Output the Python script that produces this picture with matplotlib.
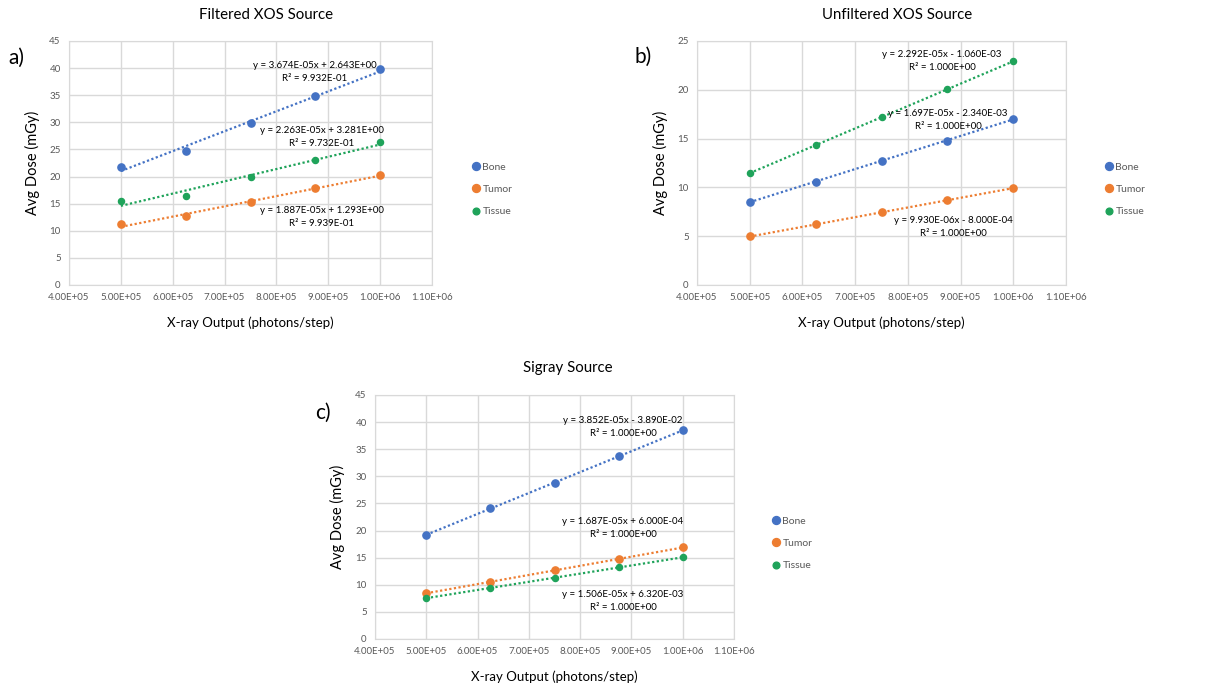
import matplotlib.pyplot as plt
from matplotlib.ticker import FuncFormatter, MultipleLocator

plt.rcParams['font.family'] = ['Lato', 'DejaVu Sans']

x_vals = [5.0e5, 6.25e5, 7.5e5, 8.75e5, 1.0e6]
series = ["Bone", "Tumor", "Tissue"]
colors = {"Bone": "#4472C4", "Tumor": "#ED7D31", "Tissue": "#1FA35A"}
msizes = {"Bone": 5.2, "Tumor": 5.2, "Tissue": 4.4}

# panel a: Filtered XOS
a_bone = [21.8, 24.8, 29.8, 34.8, 39.8]
a_tumor = [11.2, 12.8, 15.3, 17.8, 20.3]
a_tissue = [15.5, 16.5, 19.9, 23.1, 26.3]
a_fit = {"Bone": (3.674e-05, 2.643), "Tumor": (1.887e-05, 1.293), "Tissue": (2.263e-05, 3.281)}
a_eq = {"Bone": ("y = 3.674E-05x + 2.643E+00", "R² = 9.932E-01"),
        "Tumor": ("y = 1.887E-05x + 1.293E+00", "R² = 9.939E-01"),
        "Tissue": ("y = 2.263E-05x + 3.281E+00", "R² = 9.732E-01")}

# panel b: Unfiltered XOS
b_bone = [8.5, 10.6, 12.7, 14.8, 17.0]
b_tumor = [4.97, 6.2, 7.45, 8.69, 9.93]
b_tissue = [11.46, 14.3, 17.19, 20.05, 22.92]
b_fit = {"Bone": (1.697e-05, -2.340e-03), "Tumor": (9.930e-06, -8.000e-04), "Tissue": (2.292e-05, -1.060e-03)}
b_eq = {"Bone": ("y = 1.697E-05x - 2.340E-03", "R² = 1.000E+00"),
        "Tumor": ("y = 9.930E-06x - 8.000E-04", "R² = 1.000E+00"),
        "Tissue": ("y = 2.292E-05x - 1.060E-03", "R² = 1.000E+00")}

# panel c: Sigray
c_bone = [19.2, 24.1, 28.8, 33.7, 38.5]
c_tumor = [8.4, 10.5, 12.7, 14.8, 16.9]
c_tissue = [7.6, 9.4, 11.3, 13.2, 15.1]
c_fit = {"Bone": (3.852e-05, -3.890e-02), "Tumor": (1.687e-05, 6.000e-04), "Tissue": (1.506e-05, 6.320e-03)}
c_eq = {"Bone": ("y = 3.852E-05x - 3.890E-02", "R² = 1.000E+00"),
        "Tumor": ("y = 1.687E-05x + 6.000E-04", "R² = 1.000E+00"),
        "Tissue": ("y = 1.506E-05x + 6.320E-03", "R² = 1.000E+00")}

W, H = 1232, 687
fig = plt.figure(figsize=(W / 100, H / 100), dpi=100)
fig.patch.set_facecolor("white")


def px_axes(left, top, right, bottom):
    return fig.add_axes([left / W, 1 - bottom / H, (right - left) / W, (bottom - top) / H])


def panel(box, data, fits, eqs, ymax, title, title_xy, letter, letter_xy,
          eq_pos, leg_xy, ylab_x):
    ax = px_axes(*box)
    for name in series:
        ax.plot(x_vals, data[name], "o", color=colors[name], ms=msizes[name], zorder=3, label=name)
        m, b = fits[name]
        xs = [x_vals[0], x_vals[-1]]
        ax.plot(xs, [m * xs[0] + b, m * xs[1] + b], ls=(0, (1, 1.1)), lw=1.6,
                color=colors[name], zorder=2)
        ex, ey = eq_pos[name]
        ax.annotate(eqs[name][0] + "\n" + eqs[name][1],
                    xy=(ex / W, 1 - ey / H), xycoords="figure fraction",
                    ha="center", va="center", fontsize=7, color="#000000",
                    linespacing=1.6)
    ax.set_xlim(4.0e5, 1.1e6)
    ax.set_ylim(0, ymax)
    ax.xaxis.set_major_locator(MultipleLocator(1e5))
    ax.yaxis.set_major_locator(MultipleLocator(5))
    ax.xaxis.set_major_formatter(FuncFormatter(lambda v, p: f"{v:.2E}"))
    ax.grid(True, color="#d9d9d9", lw=1.0)
    ax.set_axisbelow(True)
    for s in ax.spines.values():
        s.set_color("#d9d9d9")
    ax.tick_params(length=0, labelsize=7, colors="#595959", pad=6)
    ax.set_xlabel("X-ray Output (photons/step)", fontsize=9.5, labelpad=10)
    ax.set_ylabel("Avg Dose (mGy)", fontsize=10.5)
    ax.yaxis.set_label_coords((ylab_x - box[0]) / (box[2] - box[0]), 0.5)
    fig.text(title_xy[0] / W, 1 - title_xy[1] / H, title, ha="center", va="center", fontsize=10.8)
    fig.text(letter_xy[0] / W, 1 - letter_xy[1] / H, letter, ha="center", va="center", fontsize=15)
    handles, labels = ax.get_legend_handles_labels()
    fig.legend(handles, labels, loc="upper left",
               bbox_to_anchor=(leg_xy[0] / W, 1 - leg_xy[1] / H), frameon=False,
               fontsize=7.5, labelcolor="#595959", handletextpad=0.15, handlelength=0.9,
               labelspacing=1.25, markerscale=1.1)
    return ax


panel((69, 41, 432, 285), {"Bone": a_bone, "Tumor": a_tumor, "Tissue": a_tissue},
      a_fit, a_eq, 45, "Filtered XOS Source", (266, 15), "a)", (16, 58),
      {"Bone": (315, 72), "Tissue": (322, 137), "Tumor": (322, 217)}, (462, 153), 40)

panel((697, 41, 1066, 285), {"Bone": b_bone, "Tumor": b_tumor, "Tissue": b_tissue},
      b_fit, b_eq, 25, "Unfiltered XOS Source", (897, 15), "b)", (643, 57),
      {"Tissue": (942, 61), "Bone": (948, 120), "Tumor": (953, 227)}, (1095, 153), 668)

panel((375, 395, 734, 639), {"Bone": c_bone, "Tumor": c_tumor, "Tissue": c_tissue},
      c_fit, c_eq, 45, "Sigray Source", (568, 368), "c)", (323, 413),
      {"Bone": (623, 427), "Tumor": (623, 528), "Tissue": (623, 601)}, (762, 507), 345)

fig.savefig("out.png", dpi=100)
